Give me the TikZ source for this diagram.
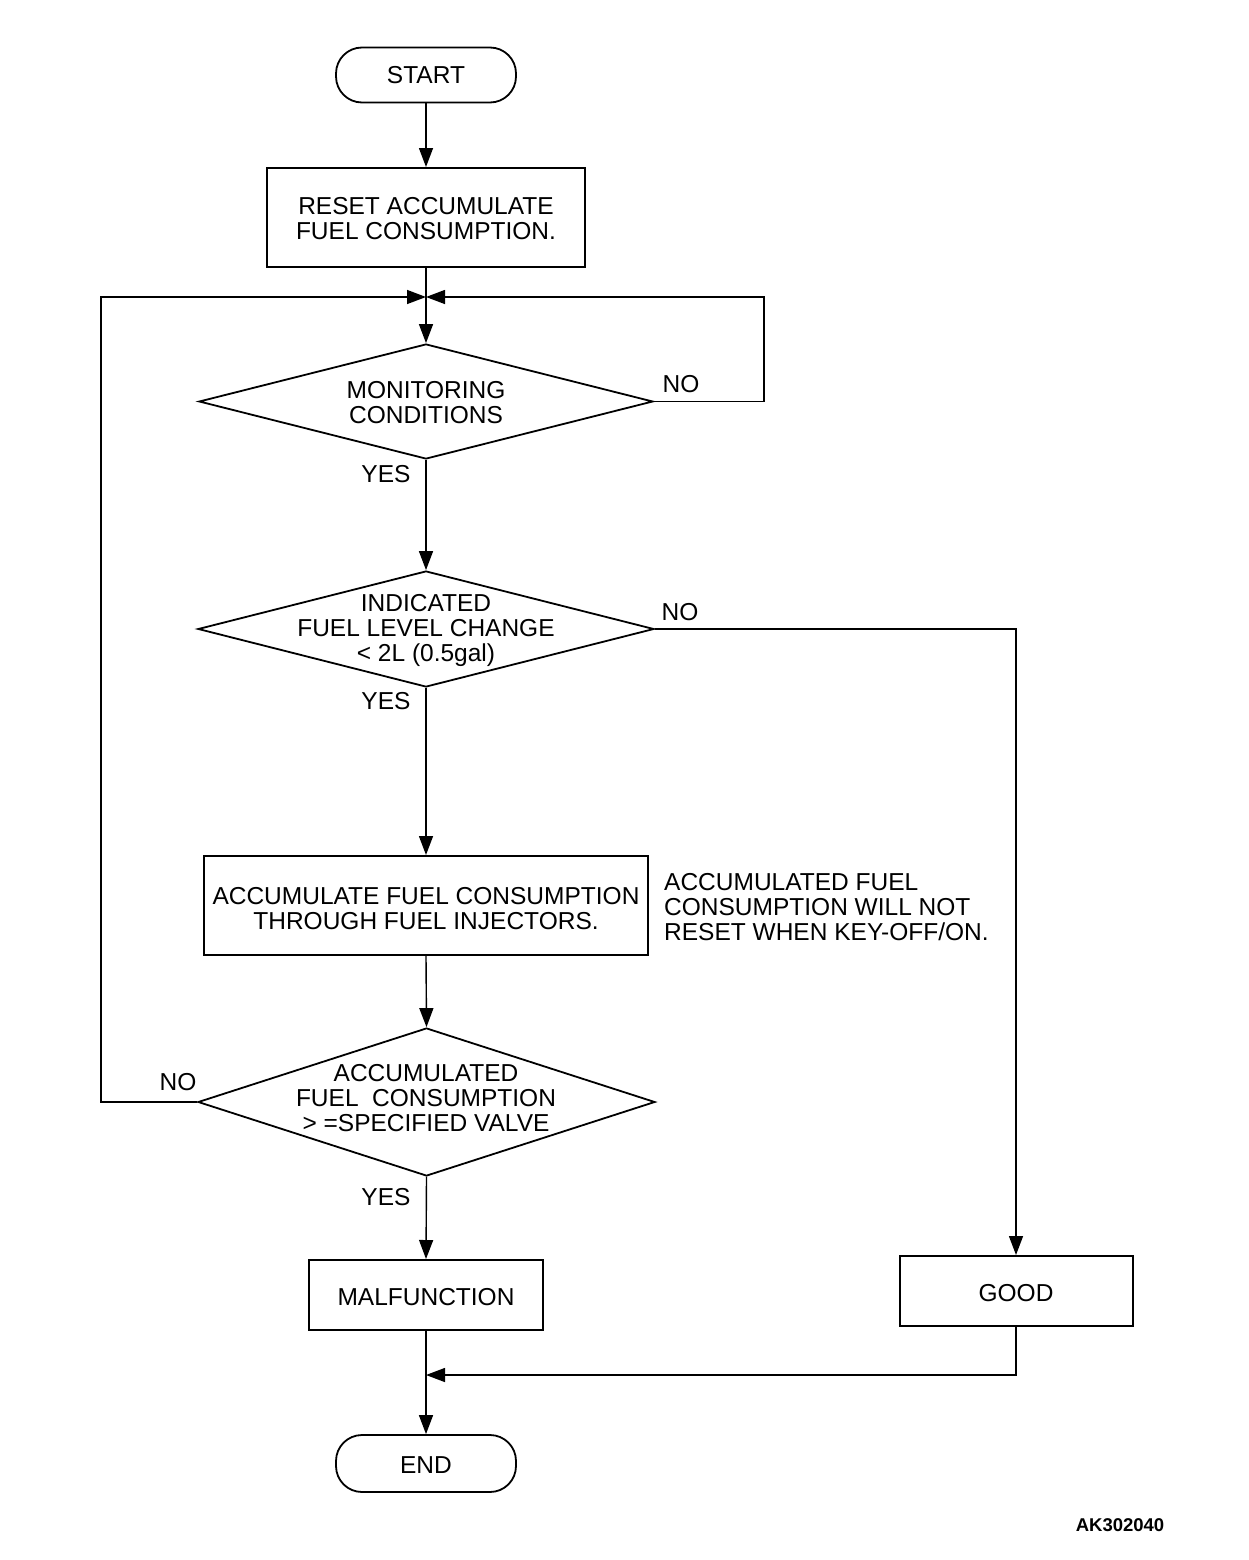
\documentclass[tikz,border=0pt]{standalone}
\usepackage{fontspec}
\setmainfont{Liberation Sans}
\usetikzlibrary{arrows.meta,shapes.geometric}
\begin{document}
\begin{tikzpicture}[x=1pt,y=-1pt,
  txt/.style={font=\fontsize{24.5}{25}\selectfont, align=center, inner sep=0pt},
  term/.style={draw, line width=1.8pt, rounded corners=26pt, inner sep=0pt},
  proc/.style={draw, line width=2pt, inner sep=0pt},
  dia/.style={draw, diamond, line width=1.8pt, inner sep=0pt},
  conn/.style={line width=1.4pt},
  arr/.style={conn, -{Triangle[length=19pt,width=14pt]}},
  lbl/.style={font=\fontsize{24.5}{25}\selectfont, inner sep=0pt}]
\useasboundingbox (0,0) rectangle (1248,1560);

\node[term, minimum width=180pt, minimum height=55pt] (start) at (426,75) {};
\node[txt] at (start) {START};

\node[proc, minimum width=318pt, minimum height=99pt] (reset) at (426,217.5) {};
\node[txt] at (426,219) {RESET ACCUMULATE\\FUEL CONSUMPTION.};

\node[dia, minimum width=454pt, minimum height=115pt] (d1) at (426,401.5) {};
\node[txt] at (426,403) {MONITORING\\CONDITIONS};

\node[dia, minimum width=456pt, minimum height=116pt] (d2) at (426,629) {};
\node[txt] at (426,630) {INDICATED\\FUEL LEVEL CHANGE\\{<} 2L (0.5gal)};

\node[proc, minimum width=444pt, minimum height=99pt] (acc) at (426,905.5) {};
\node[txt] at (426,909) {ACCUMULATE FUEL CONSUMPTION\\THROUGH FUEL INJECTORS.};

\node[txt, align=left, anchor=west] (note) at (664,907) {ACCUMULATED FUEL\\CONSUMPTION WILL NOT\\RESET WHEN KEY-OFF/ON.};

\node[dia, minimum width=457pt, minimum height=148pt] (d3) at (426.5,1102) {};
\node[txt] at (426,1098) {ACCUMULATED\\FUEL\ \ CONSUMPTION\\{>} =SPECIFIED VALVE};

\node[proc, minimum width=234pt, minimum height=70pt] (malf) at (426,1295) {};
\node[txt] at (426,1297) {MALFUNCTION};

\node[proc, minimum width=233pt, minimum height=70pt] (good) at (1016,1291) {};
\node[txt] at (1016,1293) {GOOD};

\node[term, minimum width=180pt, minimum height=57pt] (end) at (426,1463.5) {};
\node[txt] at (426,1465) {END};

\node[lbl] (no1) at (681,384) {NO};
\node[lbl] (yes1) at (386,474) {YES};
\node[lbl] (no2) at (680,612) {NO};
\node[lbl] (yes2) at (386,701) {YES};
\node[lbl] (no3) at (178,1082) {NO};
\node[lbl] (yes3) at (386,1197) {YES};

\node[font=\fontsize{18.5}{20}\selectfont\bfseries, inner sep=0pt] (code) at (1120,1525) {AK302040};

\coordinate (j) at (426,297);
\coordinate (m) at (426,1375);
\coordinate (r1) at (764,297);
\coordinate (l1) at (101,297);

\draw[arr] (start.south) -- (reset.north);
\draw[arr] (reset.south) -- (d1.north);
\draw[arr] (d1.east) -| (r1) -- (j);
\draw[arr] (d3.west) -| (l1) -- (j);
\draw[arr] (d1.south) -- (d2.north);
\draw[arr] (d2.south) -- (acc.north);
\draw[arr] (acc.south) -- (d3.north);
\draw[arr] (d3.south) -- (malf.north);
\draw[arr] (d2.east) -| (good.north);
\draw[arr] (good.south) |- (m);
\draw[arr] (malf.south) -- (end.north);
\end{tikzpicture}
\end{document}
